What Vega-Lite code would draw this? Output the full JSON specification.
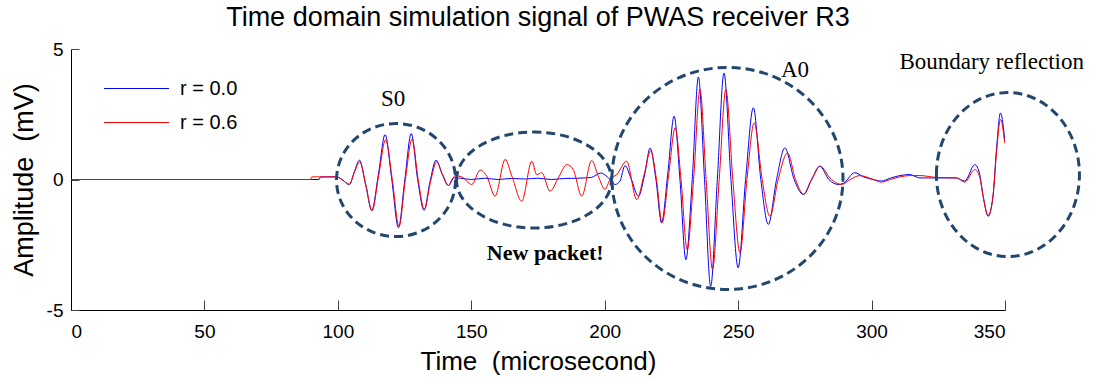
{
  "$schema": "https://vega.github.io/schema/vega-lite/v6.json",
  "width": 934,
  "height": 261,
  "autosize": {"type": "none"},
  "padding": {"left": 71, "top": 49, "right": 89, "bottom": 71},
  "background": "white",
  "title": {"text": "Time domain simulation signal of PWAS receiver R3", "font": "Liberation Sans", "fontSize": 27, "fontWeight": "normal", "color": "#000000", "offset": 8},
  "config": {
    "view": {"stroke": null},
    "axis": {"domainColor": "#000000", "domainWidth": 1, "tickColor": "#404040", "grid": false, "labelFont": "Liberation Sans", "labelFontSize": 19, "labelColor": "#000000", "titleFont": "Liberation Sans", "titleFontWeight": "normal", "titleColor": "#000000"}
  },
  "datasets": {
    "sig": [
      {"t":0,"v":0,"r":"r = 0.0"},{"t":93,"v":0,"r":"r = 0.0"},{"t":93.5,"v":0.1,"r":"r = 0.0"},{"t":99.6,"v":0.1,"r":"r = 0.0"},{"t":101.5,"v":0,"r":"r = 0.0"},{"t":104.3,"v":-0.19,"r":"r = 0.0"},{"t":106.2,"v":0.3,"r":"r = 0.0"},{"t":108.1,"v":0.74,"r":"r = 0.0"},{"t":110.4,"v":-0.2,"r":"r = 0.0"},{"t":112.7,"v":-1.18,"r":"r = 0.0"},{"t":115.2,"v":0.2,"r":"r = 0.0"},{"t":117.7,"v":1.72,"r":"r = 0.0"},{"t":120.2,"v":0,"r":"r = 0.0"},{"t":122.7,"v":-1.85,"r":"r = 0.0"},{"t":125.1,"v":0,"r":"r = 0.0"},{"t":127.5,"v":1.76,"r":"r = 0.0"},{"t":129.9,"v":0,"r":"r = 0.0"},{"t":132.3,"v":-1.18,"r":"r = 0.0"},{"t":134.5,"v":-0.1,"r":"r = 0.0"},{"t":136.8,"v":0.74,"r":"r = 0.0"},{"t":139.1,"v":0.2,"r":"r = 0.0"},{"t":141.4,"v":-0.23,"r":"r = 0.0"},{"t":143.3,"v":0.06,"r":"r = 0.0"},{"t":146,"v":0.05,"r":"r = 0.0"},{"t":150,"v":0,"r":"r = 0.0"},{"t":155,"v":0.05,"r":"r = 0.0"},{"t":160,"v":0,"r":"r = 0.0"},{"t":165,"v":0.04,"r":"r = 0.0"},{"t":170,"v":0.02,"r":"r = 0.0"},{"t":175,"v":0.05,"r":"r = 0.0"},{"t":180,"v":0,"r":"r = 0.0"},{"t":185,"v":0.04,"r":"r = 0.0"},{"t":190,"v":0.05,"r":"r = 0.0"},{"t":195,"v":0.08,"r":"r = 0.0"},{"t":198.5,"v":0.25,"r":"r = 0.0"},{"t":201,"v":0.1,"r":"r = 0.0"},{"t":203.9,"v":-0.19,"r":"r = 0.0"},{"t":205.7,"v":-0.06,"r":"r = 0.0"},{"t":207.6,"v":0.53,"r":"r = 0.0"},{"t":210,"v":0,"r":"r = 0.0"},{"t":212.6,"v":-0.64,"r":"r = 0.0"},{"t":215,"v":0.2,"r":"r = 0.0"},{"t":217,"v":1.21,"r":"r = 0.0"},{"t":219.2,"v":0,"r":"r = 0.0"},{"t":221.3,"v":-1.66,"r":"r = 0.0"},{"t":223.7,"v":0.3,"r":"r = 0.0"},{"t":226,"v":2.43,"r":"r = 0.0"},{"t":228.2,"v":0,"r":"r = 0.0"},{"t":230.4,"v":-3.07,"r":"r = 0.0"},{"t":232.8,"v":0,"r":"r = 0.0"},{"t":235.1,"v":3.93,"r":"r = 0.0"},{"t":237.4,"v":0,"r":"r = 0.0"},{"t":239.7,"v":-4.1,"r":"r = 0.0"},{"t":242.2,"v":0,"r":"r = 0.0"},{"t":244.7,"v":4.08,"r":"r = 0.0"},{"t":247.3,"v":0,"r":"r = 0.0"},{"t":250,"v":-3.38,"r":"r = 0.0"},{"t":252.8,"v":0,"r":"r = 0.0"},{"t":255.7,"v":2.75,"r":"r = 0.0"},{"t":258.5,"v":0,"r":"r = 0.0"},{"t":261.3,"v":-1.72,"r":"r = 0.0"},{"t":264.4,"v":0,"r":"r = 0.0"},{"t":267.5,"v":1.21,"r":"r = 0.0"},{"t":271,"v":0,"r":"r = 0.0"},{"t":274.4,"v":-0.57,"r":"r = 0.0"},{"t":277.5,"v":0,"r":"r = 0.0"},{"t":280.6,"v":0.51,"r":"r = 0.0"},{"t":284,"v":0,"r":"r = 0.0"},{"t":287.5,"v":-0.19,"r":"r = 0.0"},{"t":289.4,"v":-0.15,"r":"r = 0.0"},{"t":293.7,"v":0.26,"r":"r = 0.0"},{"t":297,"v":0.1,"r":"r = 0.0"},{"t":300.6,"v":0,"r":"r = 0.0"},{"t":303.7,"v":-0.06,"r":"r = 0.0"},{"t":307,"v":0.05,"r":"r = 0.0"},{"t":310.6,"v":0.15,"r":"r = 0.0"},{"t":314.3,"v":0.19,"r":"r = 0.0"},{"t":318.1,"v":0.06,"r":"r = 0.0"},{"t":324.3,"v":0.06,"r":"r = 0.0"},{"t":331.8,"v":0.06,"r":"r = 0.0"},{"t":334.9,"v":-0.06,"r":"r = 0.0"},{"t":338.7,"v":0.57,"r":"r = 0.0"},{"t":340.5,"v":0.2,"r":"r = 0.0"},{"t":341.8,"v":-0.64,"r":"r = 0.0"},{"t":343.7,"v":-1.41,"r":"r = 0.0"},{"t":345.5,"v":-0.64,"r":"r = 0.0"},{"t":346.8,"v":1.15,"r":"r = 0.0"},{"t":348.3,"v":2.55,"r":"r = 0.0"},{"t":349.9,"v":1.53,"r":"r = 0.0"},
      {"t":0,"v":0,"r":"r = 0.6"},{"t":89.7,"v":0,"r":"r = 0.6"},{"t":90.2,"v":0.1,"r":"r = 0.6"},{"t":99.6,"v":0.1,"r":"r = 0.6"},{"t":101.5,"v":0,"r":"r = 0.6"},{"t":104.3,"v":-0.19,"r":"r = 0.6"},{"t":106.2,"v":0.28,"r":"r = 0.6"},{"t":108.2,"v":0.67,"r":"r = 0.6"},{"t":110.5,"v":-0.2,"r":"r = 0.6"},{"t":112.8,"v":-1.2,"r":"r = 0.6"},{"t":115.3,"v":0.15,"r":"r = 0.6"},{"t":117.9,"v":1.52,"r":"r = 0.6"},{"t":120.4,"v":0,"r":"r = 0.6"},{"t":122.9,"v":-1.8,"r":"r = 0.6"},{"t":125.3,"v":0,"r":"r = 0.6"},{"t":127.8,"v":1.55,"r":"r = 0.6"},{"t":130.1,"v":0,"r":"r = 0.6"},{"t":132.4,"v":-1.15,"r":"r = 0.6"},{"t":134.7,"v":-0.1,"r":"r = 0.6"},{"t":137,"v":0.68,"r":"r = 0.6"},{"t":139.2,"v":0.2,"r":"r = 0.6"},{"t":141.5,"v":-0.23,"r":"r = 0.6"},{"t":143.3,"v":0.06,"r":"r = 0.6"},{"t":143.9,"v":0.15,"r":"r = 0.6"},{"t":146.4,"v":0.1,"r":"r = 0.6"},{"t":150.2,"v":-0.19,"r":"r = 0.6"},{"t":153.3,"v":0.36,"r":"r = 0.6"},{"t":155.8,"v":0.13,"r":"r = 0.6"},{"t":158.9,"v":-0.64,"r":"r = 0.6"},{"t":162.7,"v":0.77,"r":"r = 0.6"},{"t":165.2,"v":0.13,"r":"r = 0.6"},{"t":168.9,"v":-0.83,"r":"r = 0.6"},{"t":172.7,"v":0.7,"r":"r = 0.6"},{"t":174.5,"v":0.19,"r":"r = 0.6"},{"t":176.4,"v":0.26,"r":"r = 0.6"},{"t":179.5,"v":-0.45,"r":"r = 0.6"},{"t":182.6,"v":0.06,"r":"r = 0.6"},{"t":185.8,"v":0.57,"r":"r = 0.6"},{"t":188.2,"v":0.38,"r":"r = 0.6"},{"t":191.4,"v":-0.64,"r":"r = 0.6"},{"t":195.1,"v":0.73,"r":"r = 0.6"},{"t":197.6,"v":0.13,"r":"r = 0.6"},{"t":200.1,"v":-0.38,"r":"r = 0.6"},{"t":202,"v":0,"r":"r = 0.6"},{"t":204.5,"v":0.19,"r":"r = 0.6"},{"t":208.2,"v":0.7,"r":"r = 0.6"},{"t":212,"v":-0.77,"r":"r = 0.6"},{"t":214.8,"v":0.2,"r":"r = 0.6"},{"t":217.2,"v":1.1,"r":"r = 0.6"},{"t":219.4,"v":0,"r":"r = 0.6"},{"t":221.5,"v":-1.66,"r":"r = 0.6"},{"t":224,"v":0.2,"r":"r = 0.6"},{"t":226.4,"v":1.98,"r":"r = 0.6"},{"t":228.6,"v":0,"r":"r = 0.6"},{"t":230.9,"v":-2.68,"r":"r = 0.6"},{"t":233.3,"v":0,"r":"r = 0.6"},{"t":235.7,"v":3.45,"r":"r = 0.6"},{"t":238,"v":0,"r":"r = 0.6"},{"t":240.4,"v":-3.45,"r":"r = 0.6"},{"t":242.9,"v":0,"r":"r = 0.6"},{"t":245.4,"v":3.45,"r":"r = 0.6"},{"t":248,"v":0,"r":"r = 0.6"},{"t":250.7,"v":-2.81,"r":"r = 0.6"},{"t":253.3,"v":0,"r":"r = 0.6"},{"t":256,"v":2.17,"r":"r = 0.6"},{"t":259,"v":0,"r":"r = 0.6"},{"t":261.9,"v":-1.41,"r":"r = 0.6"},{"t":265,"v":0,"r":"r = 0.6"},{"t":268.5,"v":1.02,"r":"r = 0.6"},{"t":271.5,"v":0,"r":"r = 0.6"},{"t":274.6,"v":-0.57,"r":"r = 0.6"},{"t":277.6,"v":0,"r":"r = 0.6"},{"t":280.8,"v":0.51,"r":"r = 0.6"},{"t":284.5,"v":0.05,"r":"r = 0.6"},{"t":288.8,"v":-0.19,"r":"r = 0.6"},{"t":292,"v":0,"r":"r = 0.6"},{"t":295.6,"v":0.15,"r":"r = 0.6"},{"t":300.6,"v":0,"r":"r = 0.6"},{"t":303.7,"v":-0.1,"r":"r = 0.6"},{"t":307,"v":0,"r":"r = 0.6"},{"t":310.6,"v":0.1,"r":"r = 0.6"},{"t":314.3,"v":0.15,"r":"r = 0.6"},{"t":318.1,"v":0.15,"r":"r = 0.6"},{"t":324.3,"v":0.08,"r":"r = 0.6"},{"t":331.8,"v":0.06,"r":"r = 0.6"},{"t":334.9,"v":-0.1,"r":"r = 0.6"},{"t":338.7,"v":0.38,"r":"r = 0.6"},{"t":340.5,"v":0.1,"r":"r = 0.6"},{"t":341.8,"v":-0.64,"r":"r = 0.6"},{"t":343.7,"v":-1.37,"r":"r = 0.6"},{"t":345.5,"v":-0.64,"r":"r = 0.6"},{"t":346.8,"v":1.0,"r":"r = 0.6"},{"t":348.3,"v":2.3,"r":"r = 0.6"},{"t":349.9,"v":1.4,"r":"r = 0.6"}
    ],
    "regions": [
      {"name": "S0", "t": 121.8, "v": -0.02},
      {"name": "New packet", "t": 173.5, "v": -0.02},
      {"name": "A0", "t": 246.0, "v": 0.04},
      {"name": "Boundary reflection", "t": 351.1, "v": 0.19}
    ],
    "notes": [
      {"label": "S0", "t": 120.7, "v": 3.08, "style": "normal"},
      {"label": "A0", "t": 271.3, "v": 4.2, "style": "normal"},
      {"label": "Boundary reflection", "t": 345, "v": 4.5, "style": "normal"},
      {"label": "New packet!", "t": 177.7, "v": -2.8, "style": "bold"}
    ]
  },
  "layer": [
    {
      "data": {"name": "sig"},
      "mark": {"type": "line", "strokeWidth": 1, "interpolate": "monotone", "clip": true},
      "encoding": {
        "x": {"field": "t", "type": "quantitative", "scale": {"domain": [0, 350], "nice": false, "zero": false},
          "axis": {"values": [0, 50, 100, 150, 200, 250, 300, 350], "tickSize": -10, "labelPadding": 22, "title": "Time \u00a0(microsecond)", "titleFontSize": 26, "titlePadding": 7}},
        "y": {"field": "v", "type": "quantitative", "scale": {"domain": [-5, 5], "nice": false},
          "axis": {"values": [-5, 0, 5], "tickSize": -8, "labelPadding": 16, "labelExpr": "replace(datum.label, '\u2212', '-')", "title": "Amplitude \u00a0(mV)", "titleFontSize": 27, "titlePadding": 8}},
        "color": {"field": "r", "type": "nominal", "scale": {"domain": ["r = 0.0", "r = 0.6"], "range": ["#0000ff", "#ff0000"]},
          "legend": {"title": null, "orient": "none", "legendX": 54, "legendY": 28, "symbolType": "M-3,0L3,0", "symbolSize": 469, "symbolStrokeWidth": 1, "labelFont": "Liberation Sans", "labelFontSize": 20, "labelOffset": 32, "rowPadding": 12, "labelColor": "#000000",
            "encode": {"symbols": {"enter": {"stroke": {"scale": "color", "field": "value"}, "fill": {"value": "transparent"}}, "update": {"stroke": {"scale": "color", "field": "value"}, "fill": {"value": "transparent"}, "opacity": {"value": 1}}}}}},
        "order": {"field": "t", "type": "quantitative"}
      }
    },
    {
      "data": {"name": "regions"},
      "transform": [{"filter": "datum.name === 'S0'"}],
      "mark": {"type": "point", "shape": "M-1,0C-1,-0.5247,-0.5523,-0.95,0,-0.95C0.5523,-0.95,1,-0.5247,1,0C1,0.5247,0.5523,0.95,0,0.95C-0.5523,0.95,-1,0.5247,-1,0Z", "size": 14161, "filled": false, "stroke": "#23466f", "strokeWidth": 3, "strokeDash": [9, 5], "opacity": 1},
      "encoding": {"x": {"field": "t", "type": "quantitative"}, "y": {"field": "v", "type": "quantitative"}}
    },
    {
      "data": {"name": "regions"},
      "transform": [{"filter": "datum.name === 'New packet'"}],
      "mark": {"type": "point", "shape": "M-1,0C-1,-0.3419,-0.5523,-0.619,0,-0.619C0.5523,-0.619,1,-0.3419,1,0C1,0.3419,0.5523,0.619,0,0.619C-0.5523,0.619,-1,0.3419,-1,0Z", "size": 24025, "filled": false, "stroke": "#23466f", "strokeWidth": 3, "strokeDash": [9, 5], "opacity": 1},
      "encoding": {"x": {"field": "t", "type": "quantitative"}, "y": {"field": "v", "type": "quantitative"}}
    },
    {
      "data": {"name": "regions"},
      "transform": [{"filter": "datum.name === 'A0'"}],
      "mark": {"type": "point", "shape": "M-1,0C-1,-0.5308,-0.5523,-0.961,0,-0.961C0.5523,-0.961,1,-0.5308,1,0C1,0.5308,0.5523,0.961,0,0.961C-0.5523,0.961,-1,0.5308,-1,0Z", "size": 53361, "filled": false, "stroke": "#23466f", "strokeWidth": 3, "strokeDash": [9, 5], "opacity": 1},
      "encoding": {"x": {"field": "t", "type": "quantitative"}, "y": {"field": "v", "type": "quantitative"}}
    },
    {
      "data": {"name": "regions"},
      "transform": [{"filter": "datum.name === 'Boundary reflection'"}],
      "mark": {"type": "point", "shape": "M-0.872,0C-0.872,-0.5523,-0.4816,-1,0,-1C0.4816,-1,0.872,-0.5523,0.872,0C0.872,0.5523,0.4816,1,0,1C-0.4816,1,-0.872,0.5523,-0.872,0Z", "size": 26896, "filled": false, "stroke": "#23466f", "strokeWidth": 3, "strokeDash": [9, 5], "opacity": 1},
      "encoding": {"x": {"field": "t", "type": "quantitative"}, "y": {"field": "v", "type": "quantitative"}}
    },
    {
      "data": {"name": "notes"},
      "transform": [{"filter": "datum.style === 'normal'"}],
      "mark": {"type": "text", "font": "Liberation Serif", "fontSize": 23, "color": "#000000", "align": "center", "baseline": "middle"},
      "encoding": {"x": {"field": "t", "type": "quantitative"}, "y": {"field": "v", "type": "quantitative"}, "text": {"field": "label"}}
    },
    {
      "data": {"name": "notes"},
      "transform": [{"filter": "datum.style === 'bold'"}],
      "mark": {"type": "text", "font": "Liberation Serif", "fontSize": 22, "fontWeight": "bold", "color": "#000000", "align": "center", "baseline": "middle"},
      "encoding": {"x": {"field": "t", "type": "quantitative"}, "y": {"field": "v", "type": "quantitative"}, "text": {"field": "label"}}
    }
  ]
}
